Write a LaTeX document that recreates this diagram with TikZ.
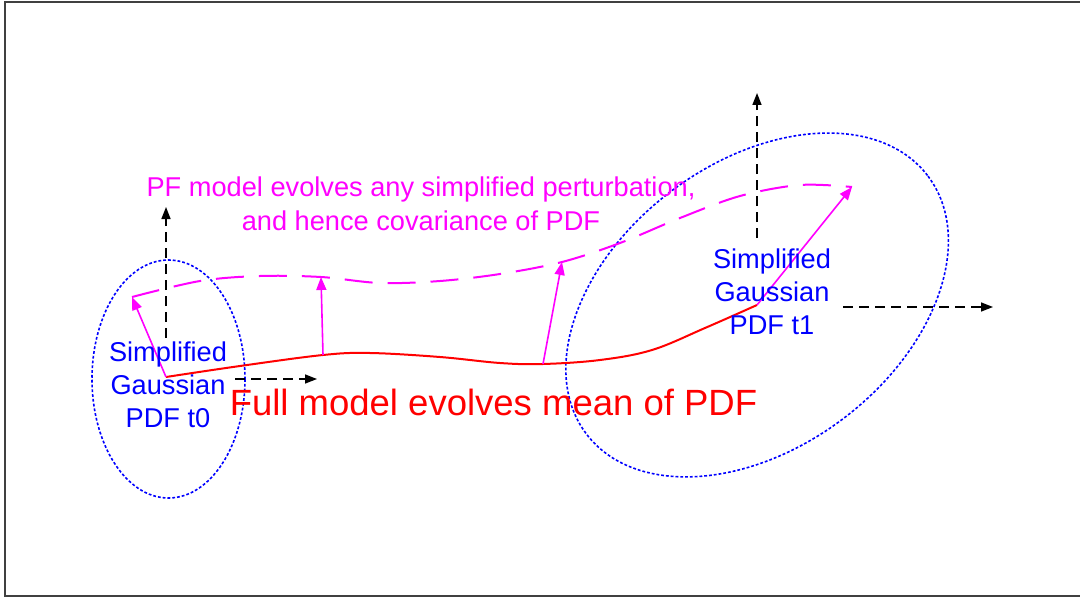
\documentclass[tikz,border=0pt]{standalone}
\usepackage{fontspec}
\setmainfont{Liberation Sans}
\usetikzlibrary{arrows.meta}
\definecolor{pmag}{RGB}{255,0,255}
\definecolor{pblue}{RGB}{0,0,255}
\definecolor{pred}{RGB}{255,0,0}
\tikzset{
  axisarrow/.style={draw=black, line width=0.75pt, dash pattern=on 5pt off 3pt, -{Triangle[length=6pt,width=4.5pt]}},
  pertarrow/.style={draw=pmag, line width=0.8pt, -{Triangle[length=6.5pt,width=5pt]}},
  pdfellipse/.style={draw=pblue, line width=0.8pt, dash pattern=on 1.4pt off 1pt},
  meancurve/.style={draw=pred, line width=1pt},
  pertcurve/.style={draw=pmag, line width=1pt, dash pattern=on 14pt off 7.5pt},
  bluetext/.style={text=pblue, font=\fontsize{13.6pt}{16.4pt}\selectfont, align=center, inner sep=0pt},
  magtext/.style={text=pmag, font=\fontsize{13.6pt}{16.8pt}\selectfont, align=center, inner sep=0pt},
  redtext/.style={text=pred, font=\fontsize{18.25pt}{22pt}\selectfont, inner sep=0pt},
  frame/.style={draw=black!75, line width=1.3pt}
}
\begin{document}
\begin{tikzpicture}[x=0.5pt,y=-0.5pt]
\useasboundingbox (0,0) rectangle (1080,599);
\clip (0,0) rectangle (1080,599);
\draw[frame] (5,2) rectangle (1100,596);

% origins and key points
\coordinate (o0) at (166,377);
\coordinate (o1) at (757,305);
\coordinate (m1) at (323,355);
\coordinate (m2) at (543,364);
\coordinate (p0) at (132,297);
\coordinate (p1) at (321,277);
\coordinate (p2) at (562,262);
\coordinate (p3) at (852,187);

% ellipses
\draw[pdfellipse] (168.5,379) ellipse [x radius=76.5, y radius=119];
\draw[pdfellipse, rotate around={37:(o1)}] (o1) ellipse [x radius=214, y radius=142.6];

% mean trajectory
\draw[meancurve] plot[smooth, tension=0.6] coordinates {(o0) (240,366) (m1) (370,353) (440,357) (500,363) (m2) (600,360) (652,350) (705,328) (o1)};

% perturbed trajectory
\draw[pertcurve] plot[smooth, tension=0.55] coordinates {(p0) (200,281) (260,276) (p1) (380,283) (440,281) (500,274) (p2) (620,243) (680,218) (740,196) (800,185) (p3)};

% perturbation arrows
\draw[pertarrow] (o0) -- (p0);
\draw[pertarrow] (m1) -- (p1);
\draw[pertarrow] (m2) -- (p2);
\draw[pertarrow] (o1) -- (p3);

% axes
\coordinate (a0v1) at (166,338); \coordinate (a0v2) at (166,207);
\coordinate (a0h1) at (235,379); \coordinate (a0h2) at (317,379);
\coordinate (a1v1) at (757,238); \coordinate (a1v2) at (757,93);
\coordinate (a1h1) at (843,307); \coordinate (a1h2) at (993,307);
\draw[axisarrow] (a0v1) -- (a0v2);
\draw[axisarrow] (a0h1) -- (a0h2);
\draw[axisarrow] (a1v1) -- (a1v2);
\draw[axisarrow] (a1h1) -- (a1h2);

% texts
\node[bluetext] (t0) at (168,385) {Simplified\\Gaussian\\PDF t0};
\node[bluetext] (t1) at (772,291.5) {Simplified\\Gaussian\\PDF t1};
\node[magtext] (pf) at (421,204) {PF model evolves any simplified perturbation,\\and hence covariance of PDF};
\node[redtext, anchor=base] (full) at (493.5,415) {Full model evolves mean of PDF};
\end{tikzpicture}
\end{document}
